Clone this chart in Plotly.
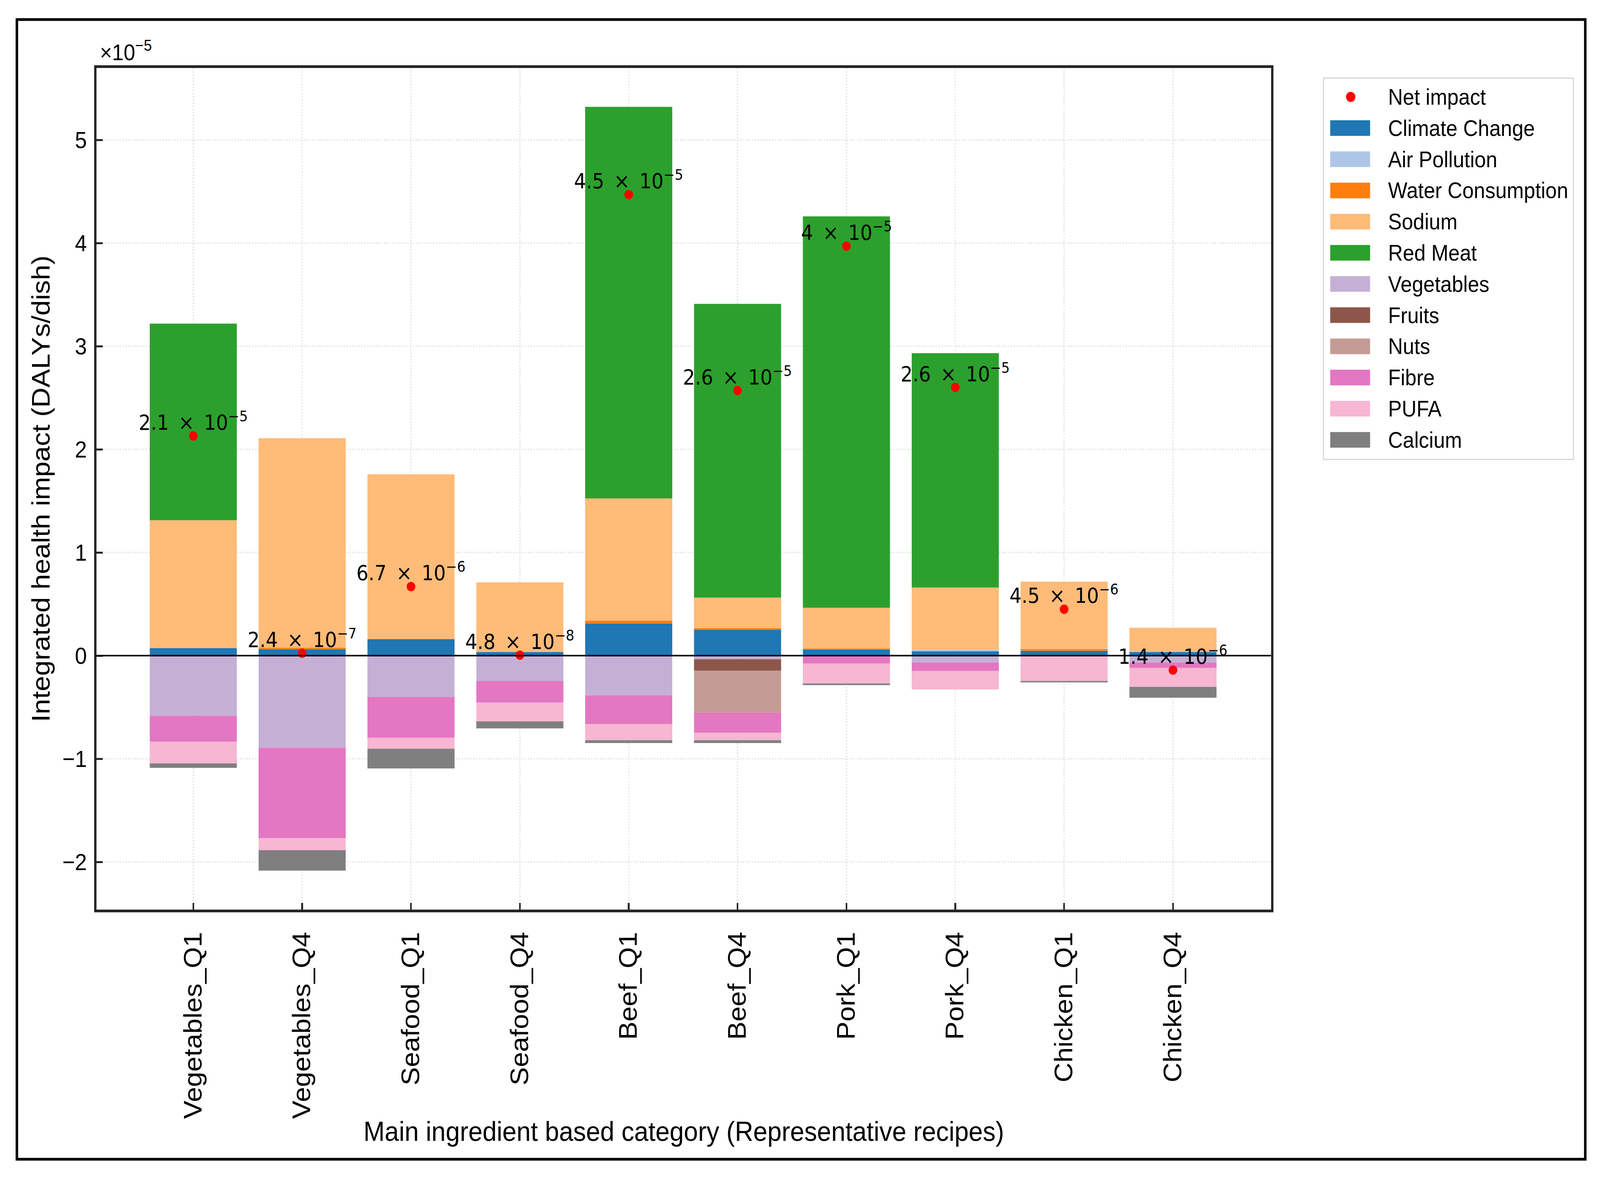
import plotly.graph_objects as go

# values are in units of 1e-5 DALYs/dish (the axis carries a "x10^-5" offset label)
categories = ['Vegetables_Q1', 'Vegetables_Q4', 'Seafood_Q1', 'Seafood_Q4', 'Beef_Q1',
              'Beef_Q4', 'Pork_Q1', 'Pork_Q4', 'Chicken_Q1', 'Chicken_Q4']

climate_change = [0.074, 0.063, 0.159, 0.034, 0.312, 0.250, 0.057, 0.043, 0.047, 0.034]
air_pollution = [0, 0, 0, 0, 0, 0, 0, 0.015, 0, 0]
water_consumption = [0, 0.013, 0, 0, 0.028, 0.016, 0.012, 0, 0.014, 0]
sodium = [1.239, 2.032, 1.599, 0.676, 1.184, 0.297, 0.395, 0.602, 0.656, 0.236]
red_meat = [1.906, 0, 0, 0, 3.796, 2.847, 3.795, 2.272, 0, 0]
vegetables = [-0.582, -0.892, -0.401, -0.246, -0.384, -0.035, 0, -0.066, 0, -0.066]
fruits = [0, 0, 0, 0, 0, -0.112, 0, 0, 0, 0]
nuts = [0, 0, 0, 0, 0, -0.405, 0, 0, 0, 0]
fibre = [-0.253, -0.878, -0.394, -0.209, -0.279, -0.194, -0.078, -0.082, 0, -0.054]
pufa = [-0.209, -0.116, -0.107, -0.182, -0.157, -0.074, -0.192, -0.180, -0.246, -0.183]
calcium = [-0.044, -0.198, -0.192, -0.068, -0.027, -0.027, -0.016, 0, -0.013, -0.105]

net_impact = [2.13, 0.024, 0.67, 0.0048, 4.47, 2.57, 3.97, 2.60, 0.45, -0.14]
net_mantissa = ['2.1', '2.4', '6.7', '4.8', '4.5', '2.6', '4', '2.6', '4.5', '1.4']
net_exponent = ['5', '7', '6', '8', '5', '5', '5', '5', '6', '6']

series_names = ['Climate Change', 'Air Pollution', 'Water Consumption', 'Sodium', 'Red Meat',
                'Vegetables', 'Fruits', 'Nuts', 'Fibre', 'PUFA', 'Calcium']
series_values = [climate_change, air_pollution, water_consumption, sodium, red_meat,
                 vegetables, fruits, nuts, fibre, pufa, calcium]
series_colors = ['#1f77b4', '#aec7e8', '#ff7f0e', '#ffbb78', '#2ca02c',
                 '#c5b0d5', '#8c564b', '#c49c94', '#e377c2', '#f7b6d2', '#7f7f7f']

FONT = 'Liberation Sans, Arial, sans-serif'

# figure geometry in pixels
W, H = 4454, 3015
L, R, T, B = 269, 3538, 174, 2328


def px(x):
    return (x - L) / (R - L)


def py(y):
    return (B - y) / (B - T)


fig = go.Figure()

for name, vals, col in zip(series_names, series_values, series_colors):
    fig.add_trace(go.Bar(x=categories, y=vals, name=name, width=0.8,
                         marker=dict(color=col, line=dict(width=0)), showlegend=False))

fig.add_trace(go.Scatter(x=categories, y=net_impact, mode='markers', name='Net impact',
                         marker=dict(color='red', size=24), showlegend=False))

annotations = []
for cat, val, m, e in zip(categories, net_impact, net_mantissa, net_exponent):
    lab = m + '\u2002×\u200210<sup>−' + e + '</sup>'
    annotations.append(dict(x=cat, y=val, text=lab, showarrow=False, xanchor='center',
                            yanchor='bottom', yshift=2,
                            font=dict(family='DejaVu Sans', size=53, color='black')))

# offset label of the y axis
annotations.append(dict(x=px(276), y=py(168), xref='paper', yref='paper', xanchor='left',
                        yanchor='bottom', showarrow=False, text='×10<sup>−5</sup>',
                        font=dict(family=FONT, size=58, color='black')))

shapes = []
# zero line above the bars
shapes.append(dict(type='line', xref='paper', yref='y', x0=0, x1=1, y0=0, y1=0,
                   line=dict(color='black', width=4), layer='above'))
# frame round the whole figure
shapes.append(dict(type='rect', xref='paper', yref='paper', x0=px(47), x1=px(4413),
                   y0=py(2967), y1=py(50), line=dict(color='black', width=7)))

# legend drawn by hand so swatches match matplotlib's patches
shapes.append(dict(type='rect', xref='paper', yref='paper', x0=px(3684), x1=px(4380),
                   y0=py(1176), y1=py(200), line=dict(color='#d4d4d4', width=3),
                   fillcolor='white', layer='above'))
row0, row_step = 248, 79.8
legend_names = ['Net impact'] + series_names
for k, name in enumerate(legend_names):
    cy = row0 + row_step * k
    if k == 0:
        shapes.append(dict(type='circle', xref='paper', yref='paper',
                           x0=px(3747), x1=px(3773), y0=py(cy + 13), y1=py(cy - 13),
                           fillcolor='red', line=dict(width=0), layer='above'))
    else:
        shapes.append(dict(type='rect', xref='paper', yref='paper',
                           x0=px(3703), x1=px(3814), y0=py(cy + 20), y1=py(cy - 20),
                           fillcolor=series_colors[k - 1], line=dict(width=0), layer='above'))
    annotations.append(dict(x=px(3862), y=py(cy), xref='paper', yref='paper', xanchor='left',
                            yanchor='middle', showarrow=False, text=name,
                            font=dict(family=FONT, size=57, color='black')))

fig.update_layout(
    width=W, height=H,
    barmode='relative',
    plot_bgcolor='white', paper_bgcolor='white',
    font=dict(family=FONT, color='black'),
    margin=dict(l=L, r=W - R, t=T, b=H - B, autoexpand=False),
    annotations=annotations,
    shapes=shapes,
    showlegend=False,
)

axis_style = dict(showline=True, mirror=True, linecolor='#262626', linewidth=7,
                  ticks='inside', ticklen=17, tickwidth=5, tickcolor='#262626',
                  showgrid=True, gridcolor='#e8e8e8', gridwidth=4, griddash='dot',
                  zeroline=False)

fig.update_xaxes(axis_style, range=[-0.888, 9.9], tickangle=-90, ticklabelstandoff=22,
                 tickfont=dict(size=70, family=FONT, color='black'),
                 title=dict(text='Main ingredient based category (Representative recipes)',
                            font=dict(size=71, family=FONT, color='black'), standoff=10))
fig.update_yaxes(axis_style, range=[-2.462, 5.697], tickvals=[-2, -1, 0, 1, 2, 3, 4, 5],
                 ticktext=['−2', '−1', '0', '1', '2', '3', '4', '5'], ticklabelstandoff=8,
                 tickfont=dict(size=60, family=FONT, color='black'),
                 title=dict(text='Integrated health impact (DALYs/dish)',
                            font=dict(size=71, family=FONT, color='black'), standoff=14))

# the browser window may be narrower than the figure: fit the figure to it
fit_js = ("document.documentElement.style.overflow='hidden';"
          "document.body.style.margin='0';document.body.style.overflow='hidden';"
          "var gd=document.getElementById('{plot_id}');"
          "var sx=window.innerWidth/" + str(W) + ", sy=window.innerHeight/" + str(H) + ";"
          "gd.style.transformOrigin='0 0';"
          "gd.style.transform='scale('+sx+','+sy+')';")

fig.write_html("out.html", post_script=fit_js, config={'displayModeBar': False})
